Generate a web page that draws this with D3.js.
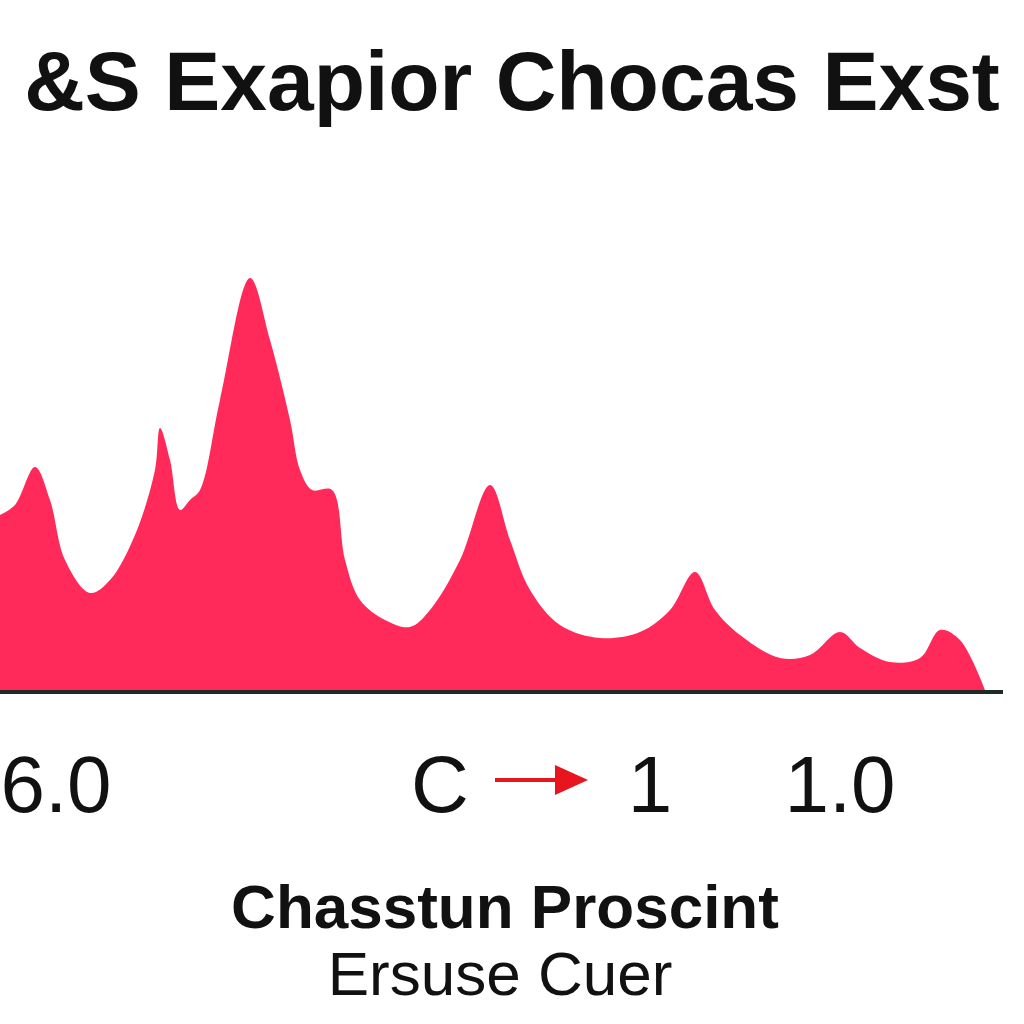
<!DOCTYPE html>
<html><head><meta charset="utf-8">
<script src="https://cdn.jsdelivr.net/npm/d3@7"></script>
<style>body{margin:0;background:#fff}</style></head>
<body><svg id="c" width="1024" height="1024"></svg>
<script>
const xs=[0,15,35,50,65,90,110,135,155,160,170,180,190,200,220,250,270,290,300,312,332,345,360,385,410,430,460,490,510,530,560,600,640,670,695,715,740,780,810,840,860,890,920,940,960,985];
const vals=[175,185,223,190,130,97,110,155,220,262,230,180,190,200,290,412,350,270,220,200,200,130,90,70,63,80,130,205,150,100,65,52,58,80,118,80,55,32,35,58,42,28,32,60,50,0];
const tickLabels=[{x:56,t:"6.0"},{x:440,t:"C"},{x:650,t:"1"},{x:840,t:"1.0"}];
const svg=d3.select("#c");
const x=d3.scaleLinear().domain([0,985]).range([0,985]);
const y=d3.scaleLinear().domain([0,412]).range([690,278]);
const data=xs.map((d,i)=>[d,vals[i]]);
svg.append("path").datum(data).attr("fill","#ff2a5a")
 .attr("d",d3.area().x(d=>x(d[0])).y0(y(0)).y1(d=>y(d[1])).curve(d3.curveCatmullRom));
svg.append("line").attr("x1",0).attr("x2",1003).attr("y1",692).attr("y2",692).attr("stroke","#1e2a28").attr("stroke-width",4);
svg.selectAll(".tl").data(tickLabels).enter().append("text").attr("x",d=>d.x).attr("y",812)
 .attr("text-anchor","middle").attr("font-family","Liberation Sans Narrow, Liberation Sans, sans-serif").attr("font-size",80).attr("fill","#111").text(d=>d.t);
svg.append("line").attr("x1",495).attr("x2",560).attr("y1",780).attr("y2",780).attr("stroke","#e8141e").attr("stroke-width",4);
svg.append("path").attr("d","M555,765 L588,780 L555,795 Z").attr("fill","#e8141e");
svg.append("text").attr("x",512).attr("y",110).attr("text-anchor","middle").attr("font-family","Liberation Sans, sans-serif").attr("font-weight","bold").attr("font-size",84).attr("fill","#111").text("&S Exapior Chocas Exst");
svg.append("text").attr("x",505).attr("y",928).attr("text-anchor","middle").attr("font-family","Liberation Sans, sans-serif").attr("font-weight","bold").attr("font-size",62).attr("fill","#111").text("Chasstun Proscint");
svg.append("text").attr("x",500).attr("y",995).attr("text-anchor","middle").attr("font-family","Liberation Sans, sans-serif").attr("font-size",62).attr("fill","#111").text("Ersuse Cuer");
</script></body></html>
